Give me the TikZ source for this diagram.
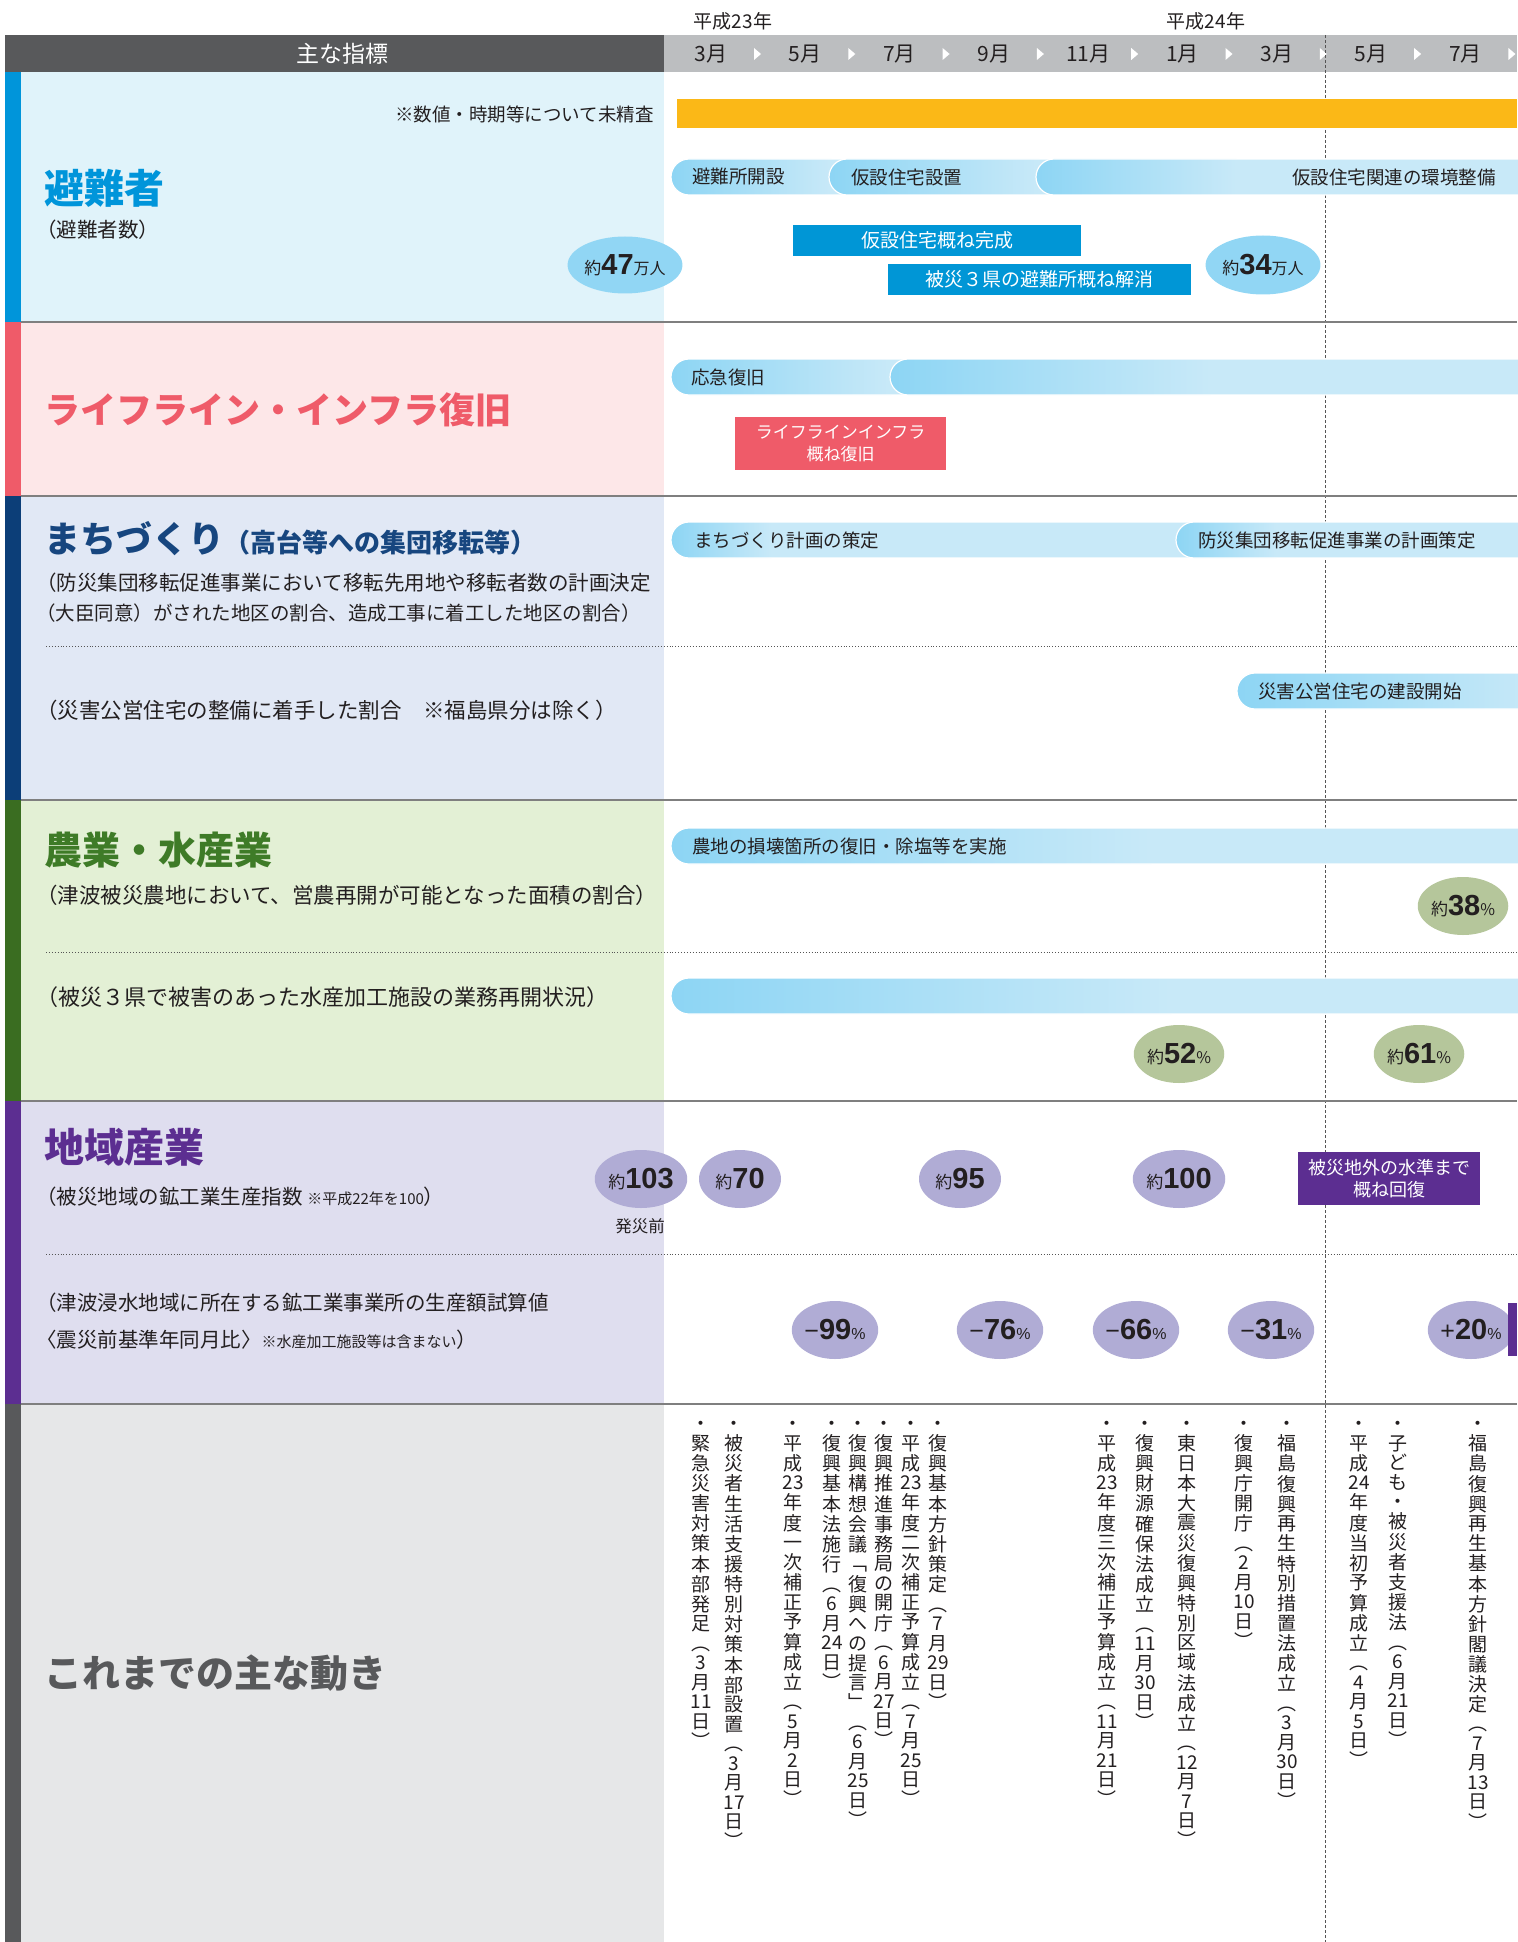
\documentclass[tikz,border=0pt]{standalone}
\usepackage{fontspec}
\setmainfont{Noto Sans CJK JP}
\newfontfamily\num{Liberation Sans}
\usetikzlibrary{shapes.geometric}
\definecolor{hdrdark}{HTML}{58595B}
\definecolor{hdrlight}{HTML}{BCBEC0}
\definecolor{txt}{HTML}{231F20}
\definecolor{bg1}{HTML}{E0F3FA}\definecolor{st1}{HTML}{0095DA}
\definecolor{bg2}{HTML}{FDE7E8}\definecolor{st2}{HTML}{EF5B69}
\definecolor{bg3}{HTML}{E1E8F5}\definecolor{st3}{HTML}{0C3E78}\definecolor{tt3}{HTML}{17467F}
\definecolor{bg4}{HTML}{E3F0D5}\definecolor{st4}{HTML}{3A6D21}\definecolor{tt4}{HTML}{3E7B27}
\definecolor{bg5}{HTML}{DFDEEF}\definecolor{st5}{HTML}{5C2E91}
\definecolor{bg6}{HTML}{E6E7E8}\definecolor{st6}{HTML}{58595B}
\definecolor{barorange}{HTML}{FBB817}
\definecolor{pilld}{HTML}{8DD5F4}\definecolor{pilll}{HTML}{C8E9F8}
\definecolor{boxblue}{HTML}{0096D6}
\definecolor{ellblue}{HTML}{91D6F4}
\definecolor{ellgreen}{HTML}{B5C69B}
\definecolor{ellpurple}{HTML}{B0ACD5}
\definecolor{sepgray}{HTML}{7F7F7F}
\definecolor{dotgray}{HTML}{555555}
\newcommand\fsz[1]{\fontsize{#1}{#1}\selectfont}
\newcommand\yk[3]{{\fsz{17}#1}{\num\bfseries\fsz{29}#2}{\fsz{16}#3}}
\newcommand\pc[2]{{\num\fsz{25}#1}{\num\bfseries\fsz{29}#2}{\num\fsz{16}\%}}
\makeatletter
\def\vst@endm{\@nil}
\def\vst@ck#1{\def\vst@tmp{#1}\ifx\vst@tmp\vst@endm\else\hbox to 24pt{\hss\vrule height 15.3pt depth 4.2pt width 0pt #1\hss}\expandafter\vst@ck\fi}
\newcommand\vcol[1]{\vbox{\offinterlineskip\vst@ck#1\@nil}}
\makeatother
\newcommand\sect[4]{\fill[#3] (5,#1) rectangle (664,#2); \fill[#4] (5,#1) rectangle (21,#2);}
\newcommand\pill[4]{%
  \begin{scope}
    \clip[rounded corners=18pt] (#1,#3-18) rectangle (#2,#3+18);
    \fill[pilll] (#1,#3-18) rectangle (#2,#3+18);
    \shade[left color=pilld,right color=pilll] (#1,#3-18) rectangle (#1+#4,#3+18);
  \end{scope}
  \draw[white,line width=1.2pt,rounded corners=18pt] (#1,#3-18) rectangle (#2,#3+18);}
\begin{document}
\begin{tikzpicture}[x=1pt,y=-1pt,
  every node/.style={inner sep=0pt,text=txt,font=\fsz{19}},
  lefttxt/.style={anchor=west,font=\fsz{20.5}},
  ttl/.style={anchor=west,font=\bfseries\fsz{#1}},
  pilltxt/.style={anchor=west,font=\fsz{18.5}},
  bluebox/.style={fill=boxblue,text=white,font=\fsz{19}},
  ell/.style={ellipse,minimum width=82,minimum height=58},
  vt/.style={anchor=north,font=\fsz{19}},
  sepline/.style={draw=sepgray,line width=1.6pt},
  dotline/.style={draw=dotgray,line width=0.9pt,dotted}]
\useasboundingbox (0,0) rectangle (1517,1942);
% year labels
\node[font=\fsz{19}] (y23) at (733,21) {平成23年};
\node[font=\fsz{19}] (y24) at (1206,21) {平成24年};
% header
\fill[hdrdark] (5,35) rectangle (664,72);
\fill[hdrlight] (664,35) rectangle (1517,72);
\node[text=white,font=\fsz{23}] (hdr) at (342,54) {主な指標};
\foreach \m [count=\i from 0] in {3月,5月,7月,9月,11月,1月,3月,5月,7月}{
  \node[font=\fsz{21}] (mon\i) at ({711+94.3*\i},54) {\m};
  \fill[white] ({754+94.3*\i},48) -- ({761+94.3*\i},54) -- ({754+94.3*\i},60) -- cycle;
}
% section backgrounds
\sect{72}{322}{bg1}{st1}
\sect{322}{496}{bg2}{st2}
\sect{496}{800}{bg3}{st3}
\sect{800}{1101}{bg4}{st4}
\sect{1101}{1404}{bg5}{st5}
\sect{1404}{1942}{bg6}{st6}
% dashed vertical line
\draw[dotgray,line width=0.8pt,dash pattern=on 3pt off 2pt] (1325,35) -- (1325,1942);
% separators
\foreach \yy in {322,496,800,1101,1404} \draw[sepline] (21,\yy) -- (1517,\yy);
\foreach \yy in {646,952,1254} \draw[dotline] (46,\yy) -- (1517,\yy);

% ---------- section 1
\node[ttl=40,text=st1] (t1) at (44,188) {避難者};
\node[lefttxt] (s1) at (36,230) {（避難者数）};
\node[anchor=east,font=\fsz{18.5}] (note1) at (654,114) {※数値・時期等について未精査};
\node[fill=barorange,minimum width=840,minimum height=29,anchor=north west] (obar) at (677,99) {};
\pill{671}{860}{177}{160}
\pill{829}{1070}{177}{210}
\pill{1036}{1560}{177}{200}
\node[pilltxt] (p11) at (692,177) {避難所開設};
\node[pilltxt] (p12) at (851,177) {仮設住宅設置};
\node[pilltxt,anchor=east] (p13) at (1496,177) {仮設住宅関連の環境整備};
\node[bluebox,minimum width=288,minimum height=31] (b1) at (937,240.5) {仮設住宅概ね完成};
\node[bluebox,minimum width=303,minimum height=31] (b2) at (1039.5,279.5) {被災３県の避難所概ね解消};
\node[ell,fill=ellblue,minimum width=108,minimum height=57] (e47) at (625,265) {\yk{約}{47}{万人}};
\node[ell,fill=ellblue,minimum width=107,minimum height=59] (e34) at (1263,265) {\yk{約}{34}{万人}};

% ---------- section 2
\node[ttl=36,text=st2] (t2) at (44,410) {ライフライン・インフラ復旧};
\pill{671}{920}{377}{220}
\pill{890}{1560}{377}{320}
\node[pilltxt] (p21) at (691,377) {応急復旧};
\node[fill=st2,text=white,minimum width=211,minimum height=53,align=center,font=\fontsize{17}{22}\selectfont] (r1) at (840.5,443.5) {ライフラインインフラ\\概ね復旧};

% ---------- section 3
\node[anchor=west,text=tt3,font=\bfseries] (t3) at (44,539) {{\fsz{36}まちづくり}{\fsz{26}（高台等への集団移転等）}};
\node[lefttxt] (s31) at (36,583) {（防災集団移転促進事業において移転先用地や移転者数の計画決定};
\node[lefttxt,font=\fsz{19.5}] (s32) at (36,613) {（大臣同意）がされた地区の割合、造成工事に着工した地区の割合）};
\node[lefttxt,font=\fsz{21.5}] (s33) at (36,710) {（災害公営住宅の整備に着手した割合　※福島県分は除く）};
\pill{671}{1210}{540}{100}
\pill{1176}{1560}{540}{100}
\pill{1237}{1560}{691}{300}
\node[pilltxt] (p31) at (694,540) {まちづくり計画の策定};
\node[pilltxt] (p32) at (1198,540) {防災集団移転促進事業の計画策定};
\node[pilltxt] (p33) at (1258,691) {災害公営住宅の建設開始};

% ---------- section 4
\node[ttl=38,text=tt4] (t4) at (44,850) {農業・水産業};
\node[lefttxt,font=\fsz{21.5}] (s41) at (36,895) {（津波被災農地において、営農再開が可能となった面積の割合）};
\node[lefttxt,font=\fsz{22}] (s42) at (36,997) {（被災３県で被害のあった水産加工施設の業務再開状況）};
\pill{671}{1560}{846}{480}
\pill{671}{1560}{996}{500}
\node[pilltxt] (p41) at (692,846) {農地の損壊箇所の復旧・除塩等を実施};
\node[ell,fill=ellgreen] (g38) at (1463,906) {\yk{約}{38}{\%}};
\node[ell,fill=ellgreen] (g52) at (1179,1054) {\yk{約}{52}{\%}};
\node[ell,fill=ellgreen] (g61) at (1419,1054) {\yk{約}{61}{\%}};

% ---------- section 5
\node[ttl=40,text=st5] (t5) at (44,1147) {地域産業};
\node[lefttxt] (s51) at (36,1197) {（被災地域の鉱工業生産指数 {\fsz{15}※平成22年を100}）};
\node[lefttxt] (s52) at (36,1303) {（津波浸水地域に所在する鉱工業事業所の生産額試算値};
\node[lefttxt] (s53) at (36,1340) {〈震災前基準年同月比〉{\fsz{15}※水産加工施設等は含まない}）};
\node[ell,fill=ellpurple] (i103) at (641,1179) {\yk{約}{103}{}};
\node[ell,fill=ellpurple] (i70) at (740,1179) {\yk{約}{70}{}};
\node[ell,fill=ellpurple] (i95) at (960,1179) {\yk{約}{95}{}};
\node[ell,fill=ellpurple] (i100) at (1179,1179) {\yk{約}{100}{}};
\node[font=\fsz{16.5}] (pre) at (640,1226) {発災前};
\node[fill=st5,text=white,minimum width=182,minimum height=53,align=center,font=\fontsize{18}{22}\selectfont] (pb) at (1389,1178.5) {被災地外の水準まで\\概ね回復};
\node[ell,fill=ellpurple] (q99) at (835,1330) {\pc{−}{99}};
\node[ell,fill=ellpurple] (q76) at (1000,1330) {\pc{−}{76}};
\node[ell,fill=ellpurple] (q66) at (1136,1330) {\pc{−}{66}};
\node[ell,fill=ellpurple] (q31) at (1271,1330) {\pc{−}{31}};
\node[ell,fill=ellpurple] (q20) at (1471,1330) {\pc{+}{20}};
\fill[st5] (1508,1303) rectangle (1517,1356);

% ---------- section 6
\node[ttl=38,text=st6] (t6) at (44,1673) {これまでの主な動き};
\node[vt] (v1) at (701,1415) {\vcol{・緊急災害対策本部発足︵3月{11}日︶}};
\node[vt] (v2) at (734,1415) {\vcol{・被災者生活支援特別対策本部設置︵3月{17}日︶}};
\node[vt] (v3) at (793,1415) {\vcol{・平成{23}年度一次補正予算成立︵5月2日︶}};
\node[vt] (v4) at (832,1415) {\vcol{・復興基本法施行︵6月{24}日︶}};
\node[vt] (v5) at (858,1415) {\vcol{・復興構想会議﹁復興への提言﹂︵6月{25}日︶}};
\node[vt] (v6) at (884,1415) {\vcol{・復興推進事務局の開庁︵6月{27}日︶}};
\node[vt] (v7) at (911,1415) {\vcol{・平成{23}年度二次補正予算成立︵7月{25}日︶}};
\node[vt] (v8) at (938,1415) {\vcol{・復興基本方針策定︵7月{29}日︶}};
\node[vt] (v9) at (1107,1415) {\vcol{・平成{23}年度三次補正予算成立︵{11}月{21}日︶}};
\node[vt] (v10) at (1145,1415) {\vcol{・復興財源確保法成立︵{11}月{30}日︶}};
\node[vt] (v11) at (1187,1415) {\vcol{・東日本大震災復興特別区域法成立︵{12}月7日︶}};
\node[vt] (v12) at (1244,1415) {\vcol{・復興庁開庁︵2月{10}日︶}};
\node[vt] (v13) at (1287,1415) {\vcol{・福島復興再生特別措置法成立︵3月{30}日︶}};
\node[vt] (v14) at (1359,1415) {\vcol{・平成{24}年度当初予算成立︵4月5日︶}};
\node[vt] (v15) at (1398,1415) {\vcol{・子ども・被災者支援法︵6月{21}日︶}};
\node[vt] (v16) at (1478,1415) {\vcol{・福島復興再生基本方針閣議決定︵7月{13}日︶}};
\end{tikzpicture}
\end{document}
